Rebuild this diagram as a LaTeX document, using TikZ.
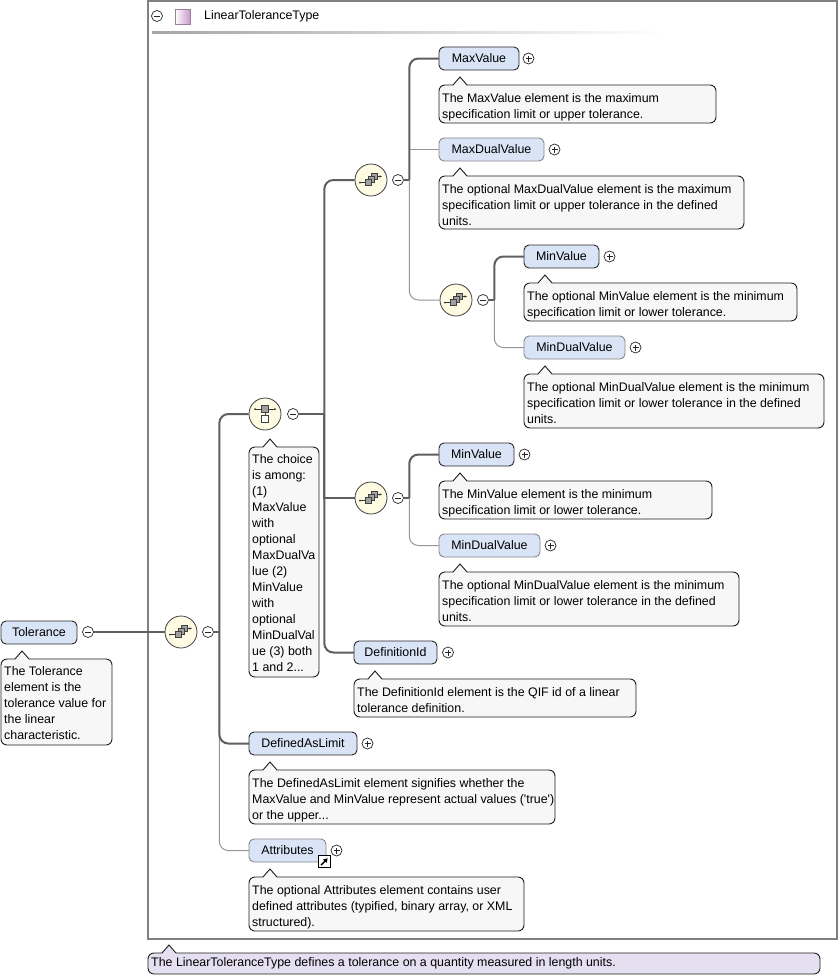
\documentclass[tikz,border=0pt]{standalone}
\usepackage{fontspec}
\setmainfont{Liberation Sans}[Ligatures=TeXOff]
\usetikzlibrary{arrows.meta}
\definecolor{elemfill}{RGB}{217,228,246}
\definecolor{elemdraw}{RGB}{40,40,40}
\definecolor{optdraw}{RGB}{135,135,135}
\definecolor{annfill}{RGB}{247,247,247}
\definecolor{anndraw}{RGB}{30,30,30}
\definecolor{typefill}{RGB}{229,224,241}
\definecolor{seqfill}{RGB}{254,251,226}
\definecolor{reqline}{RGB}{95,95,95}
\definecolor{optline}{RGB}{150,150,150}
\definecolor{framecol}{RGB}{128,128,128}
\definecolor{iconfill}{RGB}{160,160,160}
\newcommand\fs{\fontsize{12.4}{16}\selectfont}
\tikzset{
  elem/.style={draw=elemdraw, fill=elemfill, rounded corners=5pt, line width=0.9pt,
    inner sep=0pt, outer sep=0pt, anchor=west, font=\fs, text=black},
  optelem/.style={elem, draw=optdraw},
  annbox/.style={draw=anndraw, fill=#1, rounded corners=6pt, line width=0.9pt,
    anchor=north west, inner sep=0pt, outer sep=0pt},
  anntext/.style={anchor=north west, inner sep=0pt, align=left, font=\fs, text=black},
  tog/.style={circle, draw=black!85, fill=white, minimum size=11pt, inner sep=0pt, line width=0.7pt},
  minusn/.style={tog, path picture={\draw[line width=0.8pt]
      ([xshift=-3pt]path picture bounding box.center) -- ([xshift=3pt]path picture bounding box.center);}},
  plusn/.style={tog, path picture={\draw[line width=0.8pt]
      ([xshift=-3pt]path picture bounding box.center) -- ([xshift=3pt]path picture bounding box.center)
      ([yshift=-3pt]path picture bounding box.center) -- ([yshift=3pt]path picture bounding box.center);}},
  seqn/.style={circle, draw=black!75, fill=seqfill, minimum size=32pt, inner sep=0pt, line width=0.8pt,
    path picture={
      \begin{scope}[shift={(path picture bounding box.center)}]
        \draw[black!80, line width=0.6pt] (-11pt,-2.5pt) -- (-5pt,-2.5pt);
        \fill[black!80] (-11pt,-2.5pt) circle (1pt);
        \draw[black!80, line width=0.6pt, -{Latex[length=2.5pt,width=2.5pt]}] (6pt,3.5pt) -- (11pt,3.5pt);
        \filldraw[fill=iconfill, draw=black!75, line width=0.5pt] (0pt,0.5pt) rectangle (6pt,6.5pt);
        \filldraw[fill=iconfill, draw=black!75, line width=0.5pt] (-3pt,-2.5pt) rectangle (3pt,3.5pt);
        \filldraw[fill=iconfill, draw=black!75, line width=0.5pt] (-6pt,-5.5pt) rectangle (0pt,0.5pt);
      \end{scope}}},
  choicen/.style={circle, draw=black!75, fill=seqfill, minimum size=32pt, inner sep=0pt, line width=0.8pt,
    path picture={
      \begin{scope}[shift={(path picture bounding box.center)}]
        \draw[black!80, line width=0.6pt] (-10pt,5pt) -- (10pt,5pt);
        \fill[black!80] (-10pt,5pt) circle (1pt) (10pt,5pt) circle (1pt);
        \filldraw[fill=iconfill, draw=black!75, line width=0.5pt] (-3.5pt,1.5pt) rectangle (3.5pt,8.5pt);
        \draw[black!75, line width=0.5pt] (0pt,1.5pt) -- (0pt,-1.5pt);
        \filldraw[fill=white, draw=black!75, line width=0.5pt] (-3.5pt,-1.5pt) rectangle (3.5pt,-8.5pt);
      \end{scope}}},
  req/.style={draw=reqline, line width=2pt, rounded corners=9pt},
  opt/.style={draw=optline, line width=1pt, rounded corners=9pt},
  stub/.style={draw=reqline, line width=2pt, line cap=rect},
}
% element: name, style, x1, y1, x2, y2, text
\newcommand\elem[7]{%
  \pgfmathsetmacro\ew{#5-#3}\pgfmathsetmacro\eh{#6-#4}\pgfmathsetmacro\ey{(#4+#6)/2}%
  \node[#2, minimum width=\ew pt, minimum height=\eh pt] (#1) at (#3,\ey) {#7};}
% annotation: name, x1, y1, x2, y2, fill, text dy, text
\newcommand\annot[8]{%
  \pgfmathsetmacro\aw{#4-#2}\pgfmathsetmacro\ah{#5-#3}%
  \node[annbox=#6, minimum width=\aw pt, minimum height=\ah pt] (#1) at (#2,#3) {};
  \path (#1.north west) ++(21,0) coordinate (#1tip);
  \fill[#6] ([xshift=-7pt,yshift=-0.8pt]#1tip) -- ([yshift=8pt]#1tip) -- ([xshift=7pt,yshift=-0.8pt]#1tip) -- cycle;
  \draw[anndraw, line width=0.9pt] ([xshift=-7pt]#1tip) -- ([yshift=8pt]#1tip) -- ([xshift=7pt]#1tip);
  \node[anntext] (#1text) at ([xshift=3pt,yshift=-#7pt]#1.north west) {#8};}
\begin{document}
\begin{tikzpicture}[x=1pt,y=-1pt]
\useasboundingbox (0,0) rectangle (840,978);
\fill[white] (0,0) rectangle (840,978);
% outer type frame
\draw[framecol, line width=2pt] (148,1) rectangle (837,939);
\node[minusn] (hm) at (157,16) {};
\shadedraw[left color=white, right color=violet!40!white, draw=violet!40!black!50, line width=0.6pt] (175,9) rectangle (190,24);
\node[anchor=west, font=\fs, inner sep=0pt] (title) at (204,16) {LinearToleranceType};
\shade[left color=black!35, right color=white] (152,31.5) rectangle (665,33.5);

% elements
\elem{tol}{elem}{1}{621}{77}{644}{Tolerance}
\elem{maxv}{elem}{439}{47}{519}{70}{MaxValue}
\elem{maxdv}{optelem}{439}{138}{544}{161}{MaxDualValue}
\elem{minvI}{elem}{524}{245}{599}{268}{MinValue}
\elem{mindvI}{optelem}{524}{336}{625}{359}{MinDualValue}
\elem{minv2}{elem}{439}{443}{514}{466}{MinValue}
\elem{mindv2}{optelem}{439}{534}{540}{557}{MinDualValue}
\elem{defid}{elem}{354}{641}{437}{664}{DefinitionId}
\elem{dal}{elem}{249}{732}{357}{755}{DefinedAsLimit}
\elem{attr}{optelem}{249}{839}{326}{862}{Attributes}

% compositors
\node[seqn] (seq0) at (181,632) {};
\node[choicen] (choice) at (265,414) {};
\node[seqn] (seq1) at (371,180) {};
\node[seqn] (seqI) at (456,300) {};
\node[seqn] (seq2) at (371,498) {};

% toggles
\node[minusn] (tolm) at (88,632) {};
\node[minusn] (s0m) at (208,632) {};
\node[minusn] (chm) at (293,414) {};
\node[minusn] (s1m) at (398,180) {};
\node[minusn] (sIm) at (483,300) {};
\node[minusn] (s2m) at (398,498) {};
\node[plusn] (maxvp) at (528.5,58.5) {};
\node[plusn] (maxdvp) at (554.5,149.5) {};
\node[plusn] (minvIp) at (609.5,256.5) {};
\node[plusn] (mindvIp) at (635.5,347.5) {};
\node[plusn] (minv2p) at (524.5,454.5) {};
\node[plusn] (mindv2p) at (550.5,545.5) {};
\node[plusn] (defidp) at (448,652.5) {};
\node[plusn] (dalp) at (367.5,743.5) {};
\node[plusn] (attrp) at (336.5,850.5) {};
\node[draw=black, fill=white, minimum size=12pt, inner sep=0pt, line width=0.8pt,
  path picture={\draw[-{Triangle[length=4pt,width=4.5pt]}, line width=1.4pt]
    ([shift={(-3.5pt,-3.5pt)}]path picture bounding box.center) -- ([shift={(3.2pt,3.2pt)}]path picture bounding box.center);}]
  (link) at (324.5,861.5) {};

% connectors
\draw[req] (tolm.east) -- (seq0.west);
\draw[stub] (s0m.east) -- ++(5.5,0) coordinate (t0);
\draw[opt] (t0) |- (attr.west);
\draw[req] (t0) |- (dal.west);
\draw[req] (t0) |- (choice.west);

\draw[stub] (chm.east) -- ++(25.5,0) coordinate (t1);
\draw[req] (t1) |- (defid.west);
\draw[req, sharp corners] (t1) |- (seq2.west);
\draw[req] (t1) |- (seq1.west);

\draw[stub] (s1m.east) -- ++(5.5,0) coordinate (t2);
\draw[opt] (t2) |- (seqI.west);
\draw[opt, sharp corners] (t2) |- (maxdv.west);
\draw[req] (t2) |- (maxv.west);

\draw[stub] (sIm.east) -- ++(5.5,0) coordinate (t3);
\draw[opt] (t3) |- (mindvI.west);
\draw[req] (t3) |- (minvI.west);

\draw[stub] (s2m.east) -- ++(5.5,0) coordinate (t4);
\draw[opt] (t4) |- (mindv2.west);
\draw[req] (t4) |- (minv2.west);

% annotations
\annot{annTol}{1}{659}{112}{745}{annfill}{7.5}{The Tolerance\\element is the\\tolerance value for\\the linear\\characteristic.}
\annot{annMax}{439}{85}{716}{123}{annfill}{8}{The MaxValue element is the maximum\\specification limit or upper tolerance.}
\annot{annMaxD}{439}{176}{744}{229}{annfill}{8}{The optional MaxDualValue element is the maximum\\specification limit or upper tolerance in the defined\\units.}
\annot{annMinI}{524}{283}{797}{321}{annfill}{8}{The optional MinValue element is the minimum\\specification limit or lower tolerance.}
\annot{annMinDI}{524}{374}{824}{428}{annfill}{8}{The optional MinDualValue element is the minimum\\specification limit or lower tolerance in the defined\\units.}
\annot{annChoice}{249}{447}{319}{677}{annfill}{7.5}{The choice\\is among:\\(1)\\MaxValue\\with\\optional\\MaxDualVa\\lue (2)\\MinValue\\with\\optional\\MinDualVal\\ue (3) both\\1 and 2...}
\annot{annMin2}{439}{481}{712}{519}{annfill}{8}{The MinValue element is the minimum\\specification limit or lower tolerance.}
\annot{annMinD2}{439}{572}{739}{626}{annfill}{8}{The optional MinDualValue element is the minimum\\specification limit or lower tolerance in the defined\\units.}
\annot{annDef}{354}{679}{636}{717}{annfill}{8}{The DefinitionId element is the QIF id of a linear\\tolerance definition.}
\annot{annDAL}{249}{770}{555}{824}{annfill}{8}{The DefinedAsLimit element signifies whether the\\MaxValue and MinValue represent actual values ('true')\\or the upper...}
\annot{annAttr}{249}{877}{524}{931}{annfill}{8}{The optional Attributes element contains user\\defined attributes (typified, binary array, or XML\\structured).}
\annot{annType}{148}{953}{820}{974}{typefill}{4.5}{The LinearToleranceType defines a tolerance on a quantity measured in length units.}
\end{tikzpicture}
\end{document}
